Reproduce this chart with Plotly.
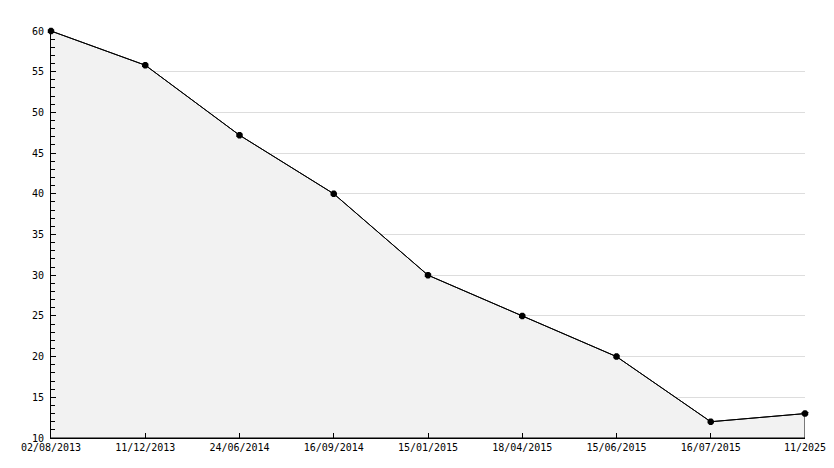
import plotly.graph_objects as go

# x labels (evenly spaced categories) and the series values
dates = ["02/08/2013", "11/12/2013", "24/06/2014", "16/09/2014", "15/01/2015",
         "18/04/2015", "15/06/2015", "16/07/2015", "11/2025"]
values = [60, 55.8, 47.2, 40, 30, 25, 20, 12, 13]

y_min, y_max = 10, 60

fig = go.Figure()

# filled area, closed down to the axis floor (gives the vertical edge on the right)
fig.add_trace(go.Scatter(
  x = dates + [dates[-1], dates[0]],
  y = values + [y_min, y_min],
  fill = "toself",
  fillcolor = "#f2f2f2",
  line = dict(color = "black", width = 1),
  mode = "lines",
  showlegend = False,
  hoverinfo = "skip",
))

# the line with its markers
fig.add_trace(go.Scatter(
  x = dates,
  y = values,
  mode = "lines+markers",
  line = dict(color = "black", width = 1),
  marker = dict(symbol = "octagon", size = 7, color = "black"),
  cliponaxis = False,
  showlegend = False,
))

# NOTE: page body adds 8px on the left/top, margins compensate for it
fig.update_layout(
  width = 834,
  height = 468,
  margin = dict(l = 43, r = 37, t = 23, b = 38),
  paper_bgcolor = "white",
  plot_bgcolor = "white",
  font = dict(family = "DejaVu Sans Mono", size = 10, color = "black"),
  xaxis = dict(
    type = "category",
    range = [0, len(dates) - 1],
    showgrid = False,
    zeroline = False,
    showline = True,
    linecolor = "black",
    linewidth = 1,
    ticks = "inside",
    ticklen = 5,
    tickcolor = "black",
    tickangle = 0,
  ),
  yaxis = dict(
    range = [y_min, y_max],
    tickmode = "linear",
    tick0 = 10,
    dtick = 5,
    showgrid = True,
    gridcolor = "#dddddd",
    gridwidth = 1,
    zeroline = False,
    showline = True,
    linecolor = "black",
    linewidth = 1,
    ticks = "inside",
    ticklen = 5,
    tickcolor = "black",
    ticklabelstandoff = 4,
    minor = dict(dtick = 1, ticks = "inside", ticklen = 4, tickcolor = "black", showgrid = False),
  ),
)

fig.write_html("out.html")
